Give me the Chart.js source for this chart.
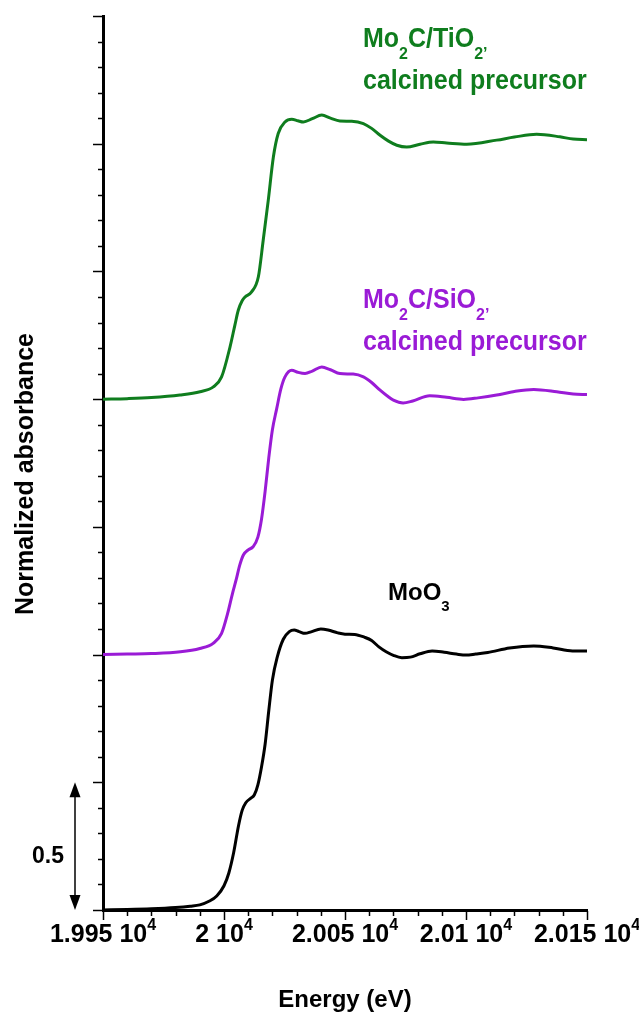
<!DOCTYPE html>
<html>
<head>
    <title>Mo K-edge XANES</title>
    <script src="https://cdn.jsdelivr.net/npm/chart.js"></script>
    <style>
        body { margin: 0; background: #fff; }
        #wrap { width: 639px; height: 1012px; position: relative; }
    </style>
</head>
<body>
    <div id="wrap"><canvas id="xanes"></canvas></div>

    <script>
        // Energy grids (eV) and normalized absorbance, one pair per sample
        const moo3Energy = [19950, 19960, 19970, 19980, 19986, 19990, 19994, 19997, 20000, 20002, 20004, 20006, 20007.5, 20009, 20011, 20012.5, 20014, 20015.5, 20017, 20018.5, 20020, 20022, 20024.5, 20027, 20029, 20031, 20033.5, 20036, 20040, 20043, 20047, 20050, 20054, 20058, 20061, 20064, 20067, 20070, 20073.5, 20077, 20081, 20086, 20091, 20096, 20100, 20104, 20109, 20118, 20128, 20136, 20144, 20150];
        const moo3Abs = [0.000, 0.002, 0.005, 0.010, 0.015, 0.020, 0.035, 0.055, 0.095, 0.145, 0.225, 0.330, 0.390, 0.420, 0.437, 0.450, 0.490, 0.560, 0.650, 0.780, 0.900, 0.990, 1.060, 1.090, 1.096, 1.090, 1.083, 1.089, 1.100, 1.096, 1.085, 1.080, 1.079, 1.068, 1.055, 1.030, 1.011, 0.997, 0.988, 0.990, 1.003, 1.014, 1.009, 1.002, 0.998, 1.002, 1.008, 1.026, 1.034, 1.026, 1.014, 1.014];

        const sio2Energy = [19950, 19960, 19970, 19982, 19990, 19995.5, 19999, 20001.5, 20003.5, 20005, 20006.5, 20008, 20010, 20012, 20014, 20015.5, 20017, 20018.5, 20020, 20021.8, 20023.5, 20025.2, 20028, 20030.5, 20033.5, 20036.5, 20040.4, 20044, 20047.9, 20053.4, 20057.6, 20061, 20064.5, 20067.5, 20070, 20074, 20078, 20085, 20092, 20099, 20105, 20112.7, 20120, 20128, 20137.5, 20144.3, 20150];
        const sio2Abs = [0.000, 0.002, 0.004, 0.011, 0.024, 0.044, 0.083, 0.161, 0.239, 0.292, 0.350, 0.390, 0.410, 0.422, 0.460, 0.530, 0.640, 0.770, 0.880, 0.964, 1.040, 1.087, 1.113, 1.105, 1.100, 1.110, 1.126, 1.115, 1.100, 1.098, 1.087, 1.065, 1.035, 1.012, 0.996, 0.985, 0.993, 1.013, 1.007, 0.999, 1.005, 1.016, 1.030, 1.038, 1.029, 1.020, 1.018];

        const tio2Energy = [19950, 19960, 19970, 19981.8, 19990.1, 19995.6, 19999, 20002.5, 20004.5, 20005.9, 20007.5, 20008.7, 20011.4, 20014.2, 20016.2, 20018.3, 20020.4, 20022.4, 20025.2, 20028, 20030.5, 20032.8, 20036.5, 20040.4, 20044, 20047.9, 20052.8, 20057.6, 20061, 20064.5, 20068, 20071.4, 20075.5, 20081, 20086.5, 20092, 20100.3, 20112.7, 20120, 20129.2, 20138.8, 20144.3, 20150];
        const tio2Abs = [0.000, 0.002, 0.006, 0.016, 0.029, 0.048, 0.087, 0.205, 0.290, 0.348, 0.385, 0.400, 0.420, 0.479, 0.622, 0.779, 0.948, 1.040, 1.085, 1.096, 1.090, 1.085, 1.098, 1.112, 1.100, 1.089, 1.088, 1.079, 1.060, 1.033, 1.010, 0.994, 0.987, 0.998, 1.007, 1.003, 0.998, 1.014, 1.026, 1.037, 1.027, 1.018, 1.016];

        // vertical stacking of the spectra
        const offsets = [0, 1, 2];

        const xTickValues = [19950, 20000, 20050, 20100, 20150];
        const xTickMantissa = ['1.995', '2', '2.005', '2.01', '2.015'];
        const scaleBarValue = 0.5;

        const FONT = '"Liberation Sans", Arial, sans-serif';
        const GREEN = '#0f7d1e';
        const PURPLE = '#9a1bd6';

        function toPoints(energy, abs, offset) {
            return energy.map((e, i) => ({ x: e, y: abs[i] + offset }));
        }

        // text with sub/superscript pieces, drawn left to right (sy stretches the glyphs)
        function drawRuns(ctx, x, y, runs, size, color, sy = 1) {
            ctx.save();
            ctx.translate(x, y);
            ctx.scale(1, sy);
            ctx.fillStyle = color;
            ctx.textAlign = 'left';
            ctx.textBaseline = 'alphabetic';
            let cx = 0;
            runs.forEach(([text, kind]) => {
                const s = kind ? Math.round(size * 0.64) : size;
                ctx.font = `bold ${s}px ${FONT}`;
                const dy = kind === 'sub' ? size * 0.44 : kind === 'sup' ? -size * 0.5 : 0;
                ctx.fillText(text, cx, dy);
                cx += ctx.measureText(text).width;
            });
            ctx.restore();
        }

        function runsWidth(ctx, runs, size) {
            let w = 0;
            runs.forEach(([text, kind]) => {
                const s = kind ? Math.round(size * 0.64) : size;
                ctx.font = `bold ${s}px ${FONT}`;
                w += ctx.measureText(text).width;
            });
            return w;
        }

        const decorations = {
            id: 'decorations',
            afterDraw(chart) {
                const { ctx, chartArea: a, scales: { x, y } } = chart;
                ctx.save();

                // minor / major ticks on both axes
                ctx.strokeStyle = '#000';
                ctx.lineWidth = 1.5;
                for (let i = 0; i <= 35; i++) {
                    const py = Math.round(y.getPixelForValue(i / 10)) + 0.5;
                    const len = i % 5 === 0 ? 9 : 4;
                    ctx.beginPath();
                    ctx.moveTo(a.left - 1, py);
                    ctx.lineTo(a.left - 1 - len, py);
                    ctx.stroke();
                }
                for (let e = 19950; e <= 20150; e += 10) {
                    const px = Math.round(x.getPixelForValue(e)) + 0.5;
                    const len = (e - 19950) % 50 === 0 ? 9 : 5;
                    ctx.beginPath();
                    ctx.moveTo(px, a.bottom + 1);
                    ctx.lineTo(px, a.bottom + 1 + len);
                    ctx.stroke();
                }

                // x tick labels like "2.005 10^4"
                xTickValues.forEach((v, i) => {
                    const runs = [[xTickMantissa[i] + ' 10'], ['4', 'sup']];
                    const w = runsWidth(ctx, runs, 25);
                    drawRuns(ctx, x.getPixelForValue(v) - w / 2, 942, runs, 25, '#000');
                });

                // axis titles
                ctx.fillStyle = '#000';
                ctx.font = `bold 24px ${FONT}`;
                ctx.textAlign = 'center';
                ctx.fillText('Energy (eV)', (a.left + a.right) / 2, 1007);

                ctx.save();
                ctx.translate(33, 474);
                ctx.rotate(-Math.PI / 2);
                ctx.font = `bold 25px ${FONT}`;
                ctx.textAlign = 'center';
                ctx.fillText('Normalized absorbance', 0, 0);
                ctx.restore();

                // scale bar for 0.5 absorbance units
                const y0 = y.getPixelForValue(0);
                const y1 = y.getPixelForValue(scaleBarValue);
                const ax = 75;
                ctx.lineWidth = 1.5;
                ctx.beginPath();
                ctx.moveTo(ax, y1 + 10);
                ctx.lineTo(ax, y0 - 10);
                ctx.stroke();
                ctx.beginPath();
                ctx.moveTo(ax, y1);
                ctx.lineTo(ax - 5.5, y1 + 15);
                ctx.lineTo(ax + 5.5, y1 + 15);
                ctx.closePath();
                ctx.fill();
                ctx.beginPath();
                ctx.moveTo(ax, y0);
                ctx.lineTo(ax - 5.5, y0 - 15);
                ctx.lineTo(ax + 5.5, y0 - 15);
                ctx.closePath();
                ctx.fill();
                ctx.font = `bold 23px ${FONT}`;
                ctx.textAlign = 'left';
                ctx.fillText(String(scaleBarValue), 32, 863);

                // curve labels, slightly tall
                const lsy = 1.08;
                drawRuns(ctx, 363, 47, [['Mo'], ['2', 'sub'], ['C/TiO'], ['2\u2019', 'sub']], 25, GREEN, lsy);
                drawRuns(ctx, 363, 89, [['calcined precursor']], 25, GREEN, lsy);
                drawRuns(ctx, 363, 308, [['Mo'], ['2', 'sub'], ['C/SiO'], ['2\u2019', 'sub']], 25, PURPLE, lsy);
                drawRuns(ctx, 363, 350, [['calcined precursor']], 25, PURPLE, lsy);
                drawRuns(ctx, 388, 600, [['MoO'], ['3', 'sub']], 24, '#000');

                ctx.restore();
            }
        };

        const lineStyle = {
            borderWidth: 3,
            pointRadius: 0,
            fill: false,
            cubicInterpolationMode: 'monotone'
        };

        new Chart(document.getElementById('xanes'), {
            type: 'line',
            data: {
                datasets: [
                    { label: 'MoO3', data: toPoints(moo3Energy, moo3Abs, offsets[0]), borderColor: '#000', ...lineStyle },
                    { label: 'Mo2C/SiO2', data: toPoints(sio2Energy, sio2Abs, offsets[1]), borderColor: PURPLE, ...lineStyle },
                    { label: 'Mo2C/TiO2', data: toPoints(tio2Energy, tio2Abs, offsets[2]), borderColor: GREEN, ...lineStyle }
                ]
            },
            options: {
                responsive: true,
                maintainAspectRatio: false,
                animation: false,
                events: [],
                layout: { padding: { top: 16, right: 52, left: 0, bottom: 0 } },
                plugins: { legend: { display: false }, tooltip: { enabled: false } },
                scales: {
                    x: {
                        type: 'linear',
                        min: 19950,
                        max: 20150,
                        grid: { display: false },
                        border: { display: true, color: '#000', width: 3 },
                        ticks: { display: false },
                        afterFit: scale => { scale.height = 102; }
                    },
                    y: {
                        min: 0,
                        max: 3.5,
                        grid: { display: false },
                        border: { display: true, color: '#000', width: 3 },
                        ticks: { display: false },
                        afterFit: scale => { scale.width = 103; }
                    }
                }
            },
            plugins: [decorations]
        });
    </script>
</body>
</html>
